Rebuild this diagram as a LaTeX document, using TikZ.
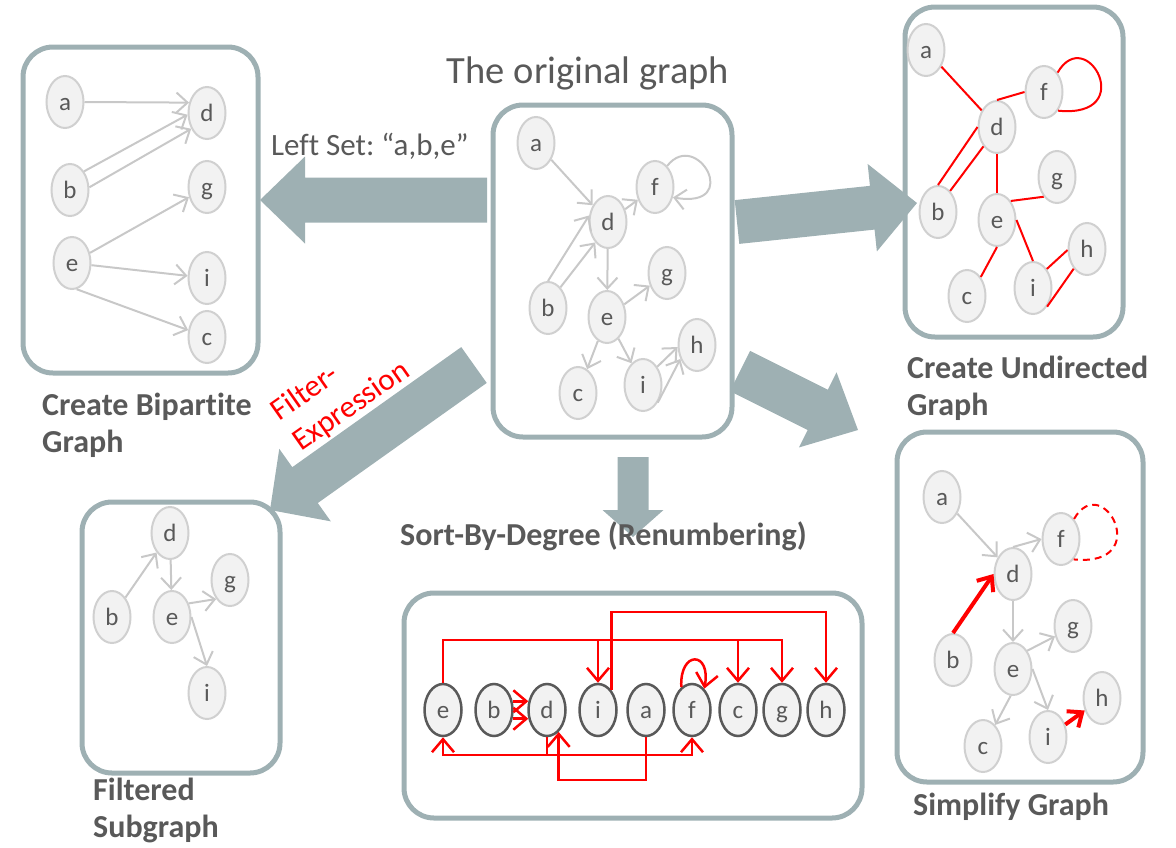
\documentclass[tikz,border=0pt]{standalone}
\usepackage{fontspec}
\setmainfont{Carlito}[Ligatures=NoCommon]
\usetikzlibrary{arrows.meta,shapes.geometric,calc}
\frenchspacing

\definecolor{panelgray}{HTML}{9EB0B3}
\definecolor{nodefill}{HTML}{F2F2F2}
\definecolor{nodeline}{HTML}{D0D0D0}
\definecolor{edgegray}{HTML}{C8C8C8}
\definecolor{txtgray}{HTML}{595959}

\tikzset{
  panel/.style={draw=panelgray, line width=5pt, rounded corners=30pt, inner sep=0pt},
  vert/.style={ellipse, draw=nodeline, line width=2pt, fill=nodefill,
    minimum width=37pt, minimum height=52pt, inner sep=0pt,
    text height=16pt, text depth=0pt, text=txtgray, font=\fontsize{25}{30}\selectfont},
  rvert/.style={vert, draw=txtgray, line width=2.5pt},
  gedge/.style={draw=edgegray, line width=2pt, -{Straight Barb[length=11pt,width=20pt]}},
  uedge/.style={draw=red, line width=2pt},
  redge/.style={draw=red, line width=2.5pt, -{Straight Barb[length=13pt,width=22pt]}},
  fatedge/.style={draw=red, line width=4pt, -{Straight Barb[length=12pt,width=20pt]}},
  caption/.style={text=txtgray, font=\bfseries\fontsize{32}{37}\selectfont, align=left, inner sep=0pt},
  note/.style={text=txtgray, inner sep=0pt},
  bigarrow/.style={fill=panelgray}
}

% block arrow: from, to, half shaft width, half head width, head length
\newcommand{\blockarrow}[5]{%
  \coordinate (hb) at ($(#2)!#5!(#1)$);
  \fill[bigarrow] ($(#1)!#3!90:(#2)$) -- ($(hb)!#3!90:(#2)$) -- ($(hb)!#4!90:(#2)$)
    -- (#2) -- ($(hb)!#4!-90:(#2)$) -- ($(hb)!#3!-90:(#2)$) -- ($(#1)!#3!-90:(#2)$) -- cycle;
}

\begin{document}
\begin{tikzpicture}[x=1pt,y=1pt,yscale=-1]
  \useasboundingbox (0,0) rectangle (1176,847);

  %% panels
  \node[panel, minimum width=235pt, minimum height=326pt] (bipbox) at (140.5,210) {};
  \node[panel, minimum width=239pt, minimum height=332pt] (origbox) at (612.5,271) {};
  \node[panel, minimum width=218pt, minimum height=330pt] (undirbox) at (1014,172) {};
  \node[panel, minimum width=246pt, minimum height=350pt] (simpbox) at (1020,607) {};
  \node[panel, minimum width=458pt, minimum height=225pt] (sortbox) at (633,705.5) {};
  \node[panel, minimum width=198pt, minimum height=271pt] (filtbox) at (181,637.5) {};

  %% big arrows between the panels
  \coordinate (lstart) at (487,200);  \coordinate (lend) at (260,200);
  \coordinate (ustart) at (737,222);  \coordinate (uend) at (917,203);
  \coordinate (dstart) at (740,371);  \coordinate (dend) at (858,430);
  \coordinate (fstart) at (474,365);  \coordinate (fend) at (270,510);
  \coordinate (sstart) at (633,457);  \coordinate (send) at (633,537);
  \blockarrow{lstart}{lend}{22.5pt}{43.5pt}{45pt}
  \blockarrow{ustart}{uend}{22pt}{44pt}{45pt}
  \blockarrow{dstart}{dend}{22.5pt}{42pt}{45pt}
  \blockarrow{fstart}{fend}{22pt}{44.5pt}{43pt}
  \blockarrow{sstart}{send}{15.5pt}{30.5pt}{27pt}

  %% original graph
  \node[vert] (oa) at (536,143) {a};
  \node[vert] (od) at (608,222) {d};
  \node[vert] (of) at (655,187) {f};
  \node[vert] (ob) at (548,308) {b};
  \node[vert] (oe) at (607,317) {e};
  \node[vert] (og) at (667,273) {g};
  \node[vert] (oc) at (578,393) {c};
  \node[vert] (oi) at (643,385) {i};
  \node[vert] (oh) at (697,345) {h};
  \draw[gedge] (oa) -- (od);
  \draw[gedge] (od) -- (of);
  \draw[gedge] (of.60) .. controls +(30,-38) and +(70,12) .. (of.-30);
  \draw[gedge] (ob.90) -- (od.161);
  \draw[gedge] (ob.59) -- (od.238);
  \draw[gedge] (od) -- (oe);
  \draw[gedge] (oe) -- (og);
  \draw[gedge] (oe) -- (oc);
  \draw[gedge] (oe) -- (oi);
  \draw[gedge] (oi.52) -- (oh.186);
  \draw[gedge] (oi.-50) -- (oh.220);

  %% bipartite graph
  \node[vert] (ba) at (65,102) {a};
  \node[vert] (bd) at (207,113) {d};
  \node[vert] (bb) at (70,190) {b};
  \node[vert] (bg) at (207,187) {g};
  \node[vert] (be) at (72,263) {e};
  \node[vert] (bi) at (207,278) {i};
  \node[vert] (bc) at (207,337) {c};
  \draw[gedge] (ba.east) -- (bd.150);
  \draw[gedge] (bb.53) -- (bd.185);
  \draw[gedge] (bb.8) -- (bd.225);
  \draw[gedge] (be) -- (bg);
  \draw[gedge] (be) -- (bi);
  \draw[gedge] (be.-80) -- (bc);

  %% undirected graph
  \node[vert] (ua) at (926,50) {a};
  \node[vert] (uf) at (1044,92) {f};
  \node[vert] (ud) at (997,127) {d};
  \node[vert] (ug) at (1057,177) {g};
  \node[vert] (ub) at (938,212) {b};
  \node[vert] (ue) at (997,220) {e};
  \node[vert] (uh) at (1087,249) {h};
  \node[vert] (uc) at (967,296) {c};
  \node[vert] (ui) at (1033,288) {i};
  \draw[uedge] (ua) -- (ud);
  \draw[uedge] (ud.north) -- (uf.west);
  \draw[uedge] (uf.55) .. controls +(29,-50) and +(81,8) .. (uf.-53);
  \draw[uedge] (ud.180) -- (ub.90);
  \draw[uedge] (ud.235) -- (ub.60);
  \draw[uedge] (ud) -- (ue);
  \draw[uedge] (ue.54) -- (ug.236);
  \draw[uedge] (ue.east) -- (ui.north);
  \draw[uedge] (ue.south) -- (uc.54);
  \draw[uedge] (ui.54) -- (uh.183);
  \draw[uedge] (ui.-53) -- (uh.236);

  %% simplified graph
  \node[vert] (sa) at (942,497) {a};
  \node[vert] (sf) at (1061,539) {f};
  \node[vert] (sd) at (1013,574) {d};
  \node[vert] (sg) at (1073,626) {g};
  \node[vert] (sb) at (953,660) {b};
  \node[vert] (se) at (1013,669) {e};
  \node[vert] (sh) at (1102,698) {h};
  \node[vert] (sc) at (983,746) {c};
  \node[vert] (si) at (1048,737) {i};
  \draw[gedge] (sa) -- (sd);
  \draw[gedge] (sd.north) -- (sf.west);
  \draw[uedge, dash pattern=on 7pt off 5pt] (sf.57) .. controls +(29,-50) and +(81,8) .. (sf.-58);
  \draw[fatedge] (sb.north) -- (sd.west);
  \draw[gedge] (sd) -- (se);
  \draw[gedge] (se.52) -- (sg.210);
  \draw[gedge] (se.-95) -- (sc.60);
  \draw[gedge] (se.east) -- (si.north);
  \draw[fatedge] (si) -- (sh);

  %% filtered subgraph
  \node[vert] (fd) at (170,533) {d};
  \node[vert] (fg) at (230,580) {g};
  \node[vert] (fb) at (112,617) {b};
  \node[vert] (fe) at (172,617) {e};
  \node[vert] (fi) at (207,693) {i};
  \draw[gedge] (fb) -- (fd);
  \draw[gedge] (fd) -- (fe);
  \draw[gedge] (fe.39) -- (fg.234);
  \draw[gedge] (fe.east) -- (fi.north);

  %% renumbered by degree
  \node[rvert] (re) at (443,710) {e};
  \node[rvert] (rb) at (494,710) {b};
  \node[rvert] (rd) at (547,710) {d};
  \node[rvert] (ri) at (598,710) {i};
  \node[rvert] (ra) at (646,710) {a};
  \node[rvert] (rf) at (692,710) {f};
  \node[rvert] (rc) at (738,710) {c};
  \node[rvert] (rg) at (782,710) {g};
  \node[rvert] (rh) at (826,710) {h};
  \coordinate (rtop) at (0,640);
  \coordinate (rtop2) at (0,612);
  \coordinate (rbot) at (0,755);
  \coordinate (rbot2) at (0,780);
  \draw[redge] (re.north) |- (rg.north |- rtop) -- (rg.north);
  \draw[redge] (ri.north |- rtop) -- (ri.north);
  \draw[redge] (rc.north |- rtop) -- (rc.north);
  \draw[redge] (ri.55) |- (rh.north |- rtop2) -- (rh.north);
  \draw[redge] (rb.25) -- (rd.155);
  \draw[redge] (rb.-25) -- (rd.205);
  \draw[redge] (rf.115) .. controls +(-2,-37) and +(7,-38) .. (rf.60);
  \draw[redge] (rd.south) |- (re.south |- rbot) -- (re.south);
  \draw[redge] (rd.south |- rbot) -| (rf.south);
  \draw[redge] (ra.south) |- (rd.-62 |- rbot2) -- (rd.-62);

  %% labels (multi-line ones sit on the baseline of their last line)
  \node[note, anchor=base, font=\fontsize{38.5}{46}\selectfont] (origlbl) at (588,83) {The original graph};
  \node[note, anchor=base west, font=\fontsize{31}{37}\selectfont] (leftlbl) at (271,155) {Left Set: “a,b,e”};
  \node[note, text=red, rotate=35, anchor=base west, align=left, font=\fontsize{31}{37}\selectfont] (filtexpr) at (301,452) {Filter-\\Expression};
  \node[caption, anchor=base west] (biplbl) at (42,452) {Create Bipartite\\Graph};
  \node[caption, anchor=base west] (undirlbl) at (907,415) {Create Undirected\\Graph};
  \node[caption, anchor=base west] (simplbl) at (913,815) {Simplify Graph};
  \node[caption, anchor=base west] (filtlbl) at (93,837) {Filtered\\Subgraph};
  \node[caption, anchor=base west] (sortlbl) at (400,545) {Sort-By-Degree (Renumbering)};
\end{tikzpicture}
\end{document}
